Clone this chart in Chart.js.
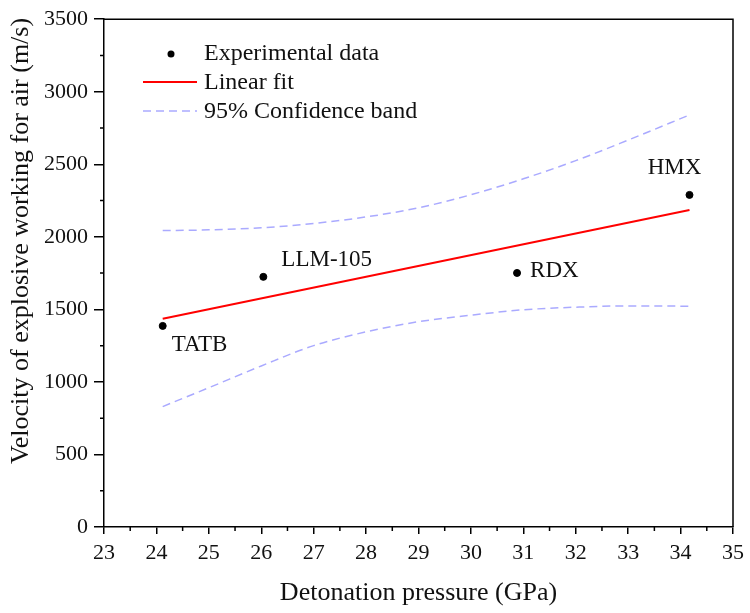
<!DOCTYPE html>
<html lang="en">
<head>
  <meta charset="UTF-8">
  <script src="https://cdn.jsdelivr.net/npm/chart.js"></script>
  <title>Velocity vs detonation pressure</title>
  <style>
    html,body{margin:0;padding:0;background:#fff;}
    #wrap{width:750px;height:613px;}
  </style>
</head>
<body>
<div id="wrap"><canvas id="myChart" width="750" height="613"></canvas></div>
<script>
  // experimental points
  const names = ['TATB', 'LLM-105', 'RDX', 'HMX'];
  const pressure = [24.12, 26.04, 30.88, 34.17];
  const velocity = [1386, 1724, 1751, 2289];

  // linear fit (end points)
  const fitX = [24.12, 34.17];
  const fitY = [1435, 2185];

  // 95% confidence band
  const bandX = [24.12, 25, 26, 27, 28, 29, 30, 31, 32, 33, 34.17];
  const bandUpper = [2043, 2048, 2062, 2092, 2137, 2200, 2290, 2400, 2525, 2667, 2840];
  const bandLower = [830, 960, 1110, 1250, 1345, 1415, 1460, 1497, 1515, 1524, 1522];

  const serif = "'Liberation Serif', 'Times New Roman', serif";

  function pts(xs, ys){ return xs.map((x, i) => ({x: x, y: ys[i]})) }

  // minor ticks, box, point labels, y title and legend
  const extras = {
    id: 'extras',
    afterDraw(chart){
      const c = chart.ctx, a = chart.chartArea;
      const xs = chart.scales.x, ys = chart.scales.y;
      c.save();
      c.strokeStyle = '#000';
      c.lineWidth = 1.5;
      // box top + right
      c.beginPath();
      c.moveTo(a.left, a.top); c.lineTo(a.right, a.top); c.lineTo(a.right, a.bottom);
      c.stroke();
      // minor ticks
      c.beginPath();
      for (let v = 23.5; v < 35; v += 1) {
        const p = xs.getPixelForValue(v);
        c.moveTo(p, a.bottom); c.lineTo(p, a.bottom + 4);
      }
      for (let v = 250; v < 3500; v += 500) {
        const p = ys.getPixelForValue(v);
        c.moveTo(a.left, p); c.lineTo(a.left - 4, p);
      }
      c.stroke();

      // y axis title (sits a bit above centre in the original)
      c.save();
      c.translate(21, 241);
      c.rotate(-Math.PI / 2);
      c.fillStyle = '#111';
      c.font = '26px ' + serif;
      c.textAlign = 'center';
      c.textBaseline = 'middle';
      c.fillText('Velocity of explosive working for air (m/s)', 0, 0);
      c.restore();

      // point labels
      c.fillStyle = '#111';
      c.font = '23px ' + serif;
      c.textBaseline = 'middle';
      const offs = [[9, 19, 'left'], [18, -17, 'left'], [13, -2, 'left'], [-15, -27, 'center']];
      names.forEach((n, i) => {
        const px = xs.getPixelForValue(pressure[i]);
        const py = ys.getPixelForValue(velocity[i]);
        c.textAlign = offs[i][2];
        c.fillText(n, px + offs[i][0], py + offs[i][1]);
      });

      // legend
      c.textAlign = 'left';
      c.fillStyle = '#000';
      c.beginPath(); c.arc(171, 54, 3.5, 0, Math.PI * 2); c.fill();
      c.fillStyle = '#111';
      c.font = '24px ' + serif;
      c.fillText('Experimental data', 204, 54);
      c.strokeStyle = '#ff0000';
      c.lineWidth = 2;
      c.beginPath(); c.moveTo(143, 82); c.lineTo(197, 82); c.stroke();
      c.fillText('Linear fit', 204, 83);
      c.strokeStyle = '#aaaaff';
      c.lineWidth = 1.5;
      c.setLineDash([8, 5]);
      c.beginPath(); c.moveTo(143, 111); c.lineTo(197, 111); c.stroke();
      c.setLineDash([]);
      c.fillText('95% Confidence band', 204, 112);
      c.restore();
    }
  };

  const ctx = document.getElementById('myChart');
  new Chart(ctx, {
    type: 'scatter',
    data: {
      datasets: [
        {
          label: 'Upper',
          type: 'line',
          data: pts(bandX, bandUpper),
          borderColor: '#aaaaff',
          borderWidth: 1.5,
          borderDash: [8, 5],
          pointRadius: 0,
          cubicInterpolationMode: 'monotone',
          fill: false
        },
        {
          label: 'Lower',
          type: 'line',
          data: pts(bandX, bandLower),
          borderColor: '#aaaaff',
          borderWidth: 1.5,
          borderDash: [8, 5],
          pointRadius: 0,
          cubicInterpolationMode: 'monotone',
          fill: false
        },
        {
          label: 'Linear fit',
          type: 'line',
          data: pts(fitX, fitY),
          borderColor: '#ff0000',
          borderWidth: 2,
          pointRadius: 0,
          fill: false
        },
        {
          label: 'Experimental data',
          data: pts(pressure, velocity),
          backgroundColor: '#000',
          borderColor: '#000',
          pointRadius: 3.5
        }
      ]
    },
    options: {
      responsive: false,
      animation: false,
      layout: {padding: {top: 19, right: 15, left: 0, bottom: 0}},
      plugins: {legend: {display: false}, tooltip: {enabled: false}},
      scales: {
        x: {
          type: 'linear',
          min: 23, max: 35,
          afterFit(s){ s.height = 86 },
          ticks: {stepSize: 1, color: '#111', padding: 6, font: {family: serif, size: 22},
                  callback: v => String(v)},
          grid: {drawOnChartArea: false, drawTicks: true, tickLength: 7, color: '#000', lineWidth: 1.5},
          border: {display: true, color: '#000', width: 1.5},
          title: {display: true, text: 'Detonation pressure (GPa)', color: '#111',
                  font: {family: serif, size: 26}, padding: {top: 6}}
        },
        y: {
          min: 0, max: 3500,
          afterFit(s){ s.width = 104 },
          ticks: {stepSize: 500, color: '#111', padding: 6, font: {family: serif, size: 22},
                  callback: v => String(v)},
          grid: {drawOnChartArea: false, drawTicks: true, tickLength: 10, color: '#000', lineWidth: 1.5},
          border: {display: true, color: '#000', width: 1.5},
          title: {display: false}
        }
      }
    },
    plugins: [extras]
  });
</script>
</body>
</html>
